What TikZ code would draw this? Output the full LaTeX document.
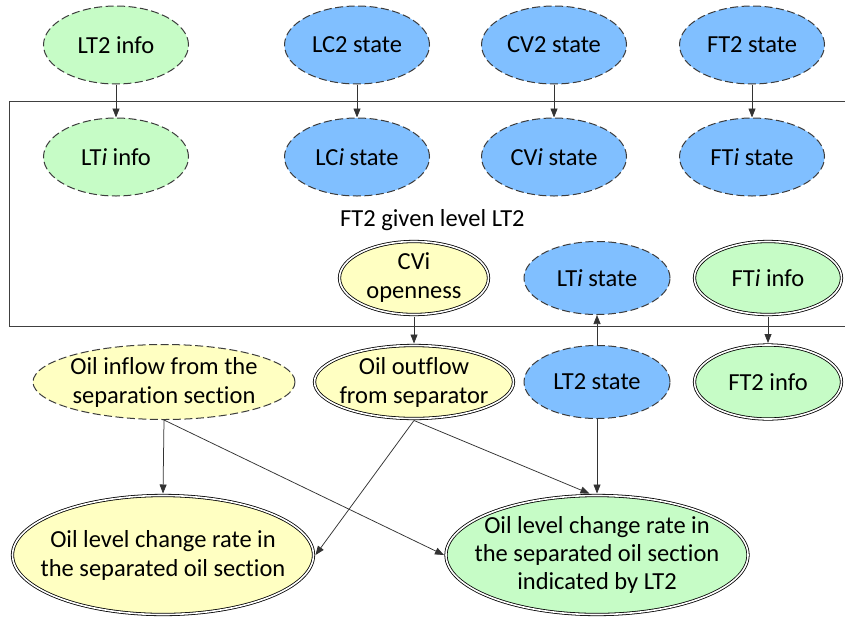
\documentclass[tikz,border=0pt]{standalone}
\usepackage{fontspec}
\setmainfont{Carlito}[Ligatures={NoCommon}]
\usetikzlibrary{shapes.geometric,arrows.meta}
\definecolor{gfill}{RGB}{198,252,198}
\definecolor{bfill}{RGB}{128,191,255}
\definecolor{yfill}{RGB}{255,255,194}
\definecolor{dline}{RGB}{60,60,60}
\begin{document}
\begin{tikzpicture}[x=1pt,y=-1pt,
  every node/.style={font=\fontsize{24.5}{29}\selectfont, text=black, align=center},
  ell/.style={ellipse, inner sep=-25pt},
  dsh/.style={ell, draw=dline, line width=1pt, dash pattern=on 8pt off 3.5pt},
  dbl/.style={ell, draw=black, double=white, double distance=1.6pt, line width=0.8pt, outer sep=2pt},
  small/.style={minimum width=145pt, minimum height=78pt},
  arr/.style={draw=black!80, line width=0.75pt, -{Triangle[length=9pt,width=7pt]}},
  boxline/.style={draw=black!75, line width=1pt}
]
\useasboundingbox (0,0) rectangle (845,616);
\fill[white] (0,0) rectangle (845,616);

% top row
\node[dsh, small, fill=gfill] (lt2info) at (116,45) {LT2 info};
\node[dsh, small, fill=bfill] (lc2) at (357,45) {LC2 state};
\node[dsh, small, fill=bfill] (cv2) at (554,45) {CV2 state};
\node[dsh, small, fill=bfill] (ft2) at (752,45) {FT2 state};

% box
\draw[boxline] (850,101) -- (9,101) -- (9,326) -- (850,326);

% second row
\node[dsh, small, fill=gfill] (ltiinfo) at (116,157) {LT\textit{i} info};
\node[dsh, small, fill=bfill] (lci) at (357,157) {LC\textit{i} state};
\node[dsh, small, fill=bfill] (cvi) at (554,157) {CV\textit{i} state};
\node[dsh, small, fill=bfill] (fti) at (752,157) {FT\textit{i} state};

\node[anchor=west, inner sep=0] (title) at (340,220) {FT2 given level LT2};

\node[dbl, fill=yfill, minimum width=149pt, minimum height=73pt] (cvop) at (414,278) {CVi\\openness};
\node[dsh, fill=bfill, minimum width=146pt, minimum height=73pt] (ltistate) at (597,278) {LT\textit{i} state};
\node[dbl, fill=gfill, minimum width=147pt, minimum height=73pt] (ftiinfo) at (768,278) {FT\textit{i} info};

% third row
\node[dsh, fill=yfill, minimum width=262pt, minimum height=75pt] (inflow) at (164,382) {Oil inflow from the\\separation section};
\node[dbl, fill=yfill, minimum width=199pt, minimum height=73pt] (outflow) at (414,382) {Oil outflow\\from separator};
\node[dsh, fill=bfill, minimum width=146pt, minimum height=73pt] (lt2state) at (597,382) {LT2 state};
\node[dbl, fill=gfill, minimum width=147pt, minimum height=74pt] (ft2info) at (768,382) {FT2 info};

% bottom row
\node[dbl, fill=yfill, minimum width=301pt, minimum height=119pt] (yb) at (163,555) {Oil level change rate in\\the separated oil section};
\node[dbl, fill=gfill, minimum width=302pt, minimum height=119pt] (gb) at (597,555) {Oil level change rate in\\[-1pt]the separated oil section\\[-1pt]indicated by LT2};

% connectors
\draw[arr] (lt2info.south) -- (ltiinfo.north);
\draw[arr] (lc2.south) -- (lci.north);
\draw[arr] (cv2.south) -- (cvi.north);
\draw[arr] (ft2.south) -- (fti.north);
\draw[arr] (cvop.south) -- (outflow.north);
\draw[arr] (lt2state.north) -- (ltistate.south);
\draw[arr] (ftiinfo.south) -- (ft2info.north);
\draw[arr] (inflow.south) -- (yb.north);
\draw[arr] (inflow.south) -- (gb.west);
\draw[arr] (outflow.south) -- (yb.east);
\draw[arr] (outflow.south) -- (gb.97);
\draw[arr] (lt2state.south) -- (gb.north);
\end{tikzpicture}
\end{document}
